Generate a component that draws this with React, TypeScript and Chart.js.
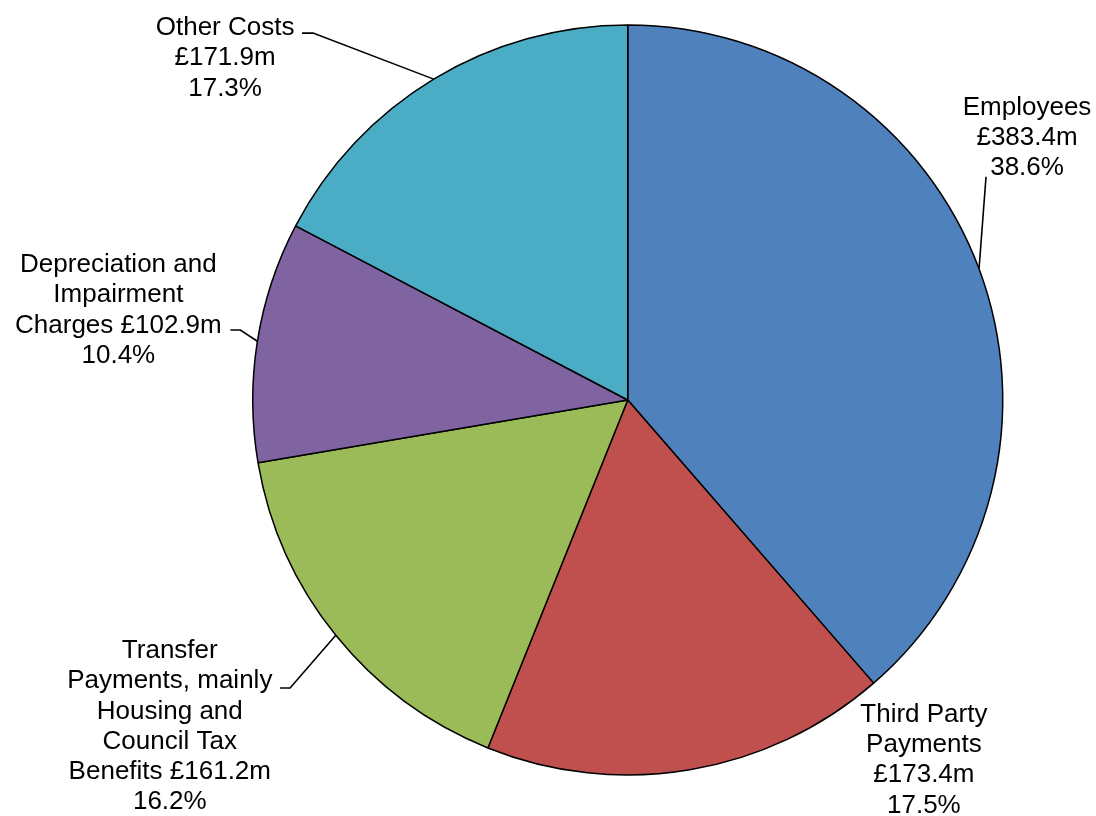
import React, { useEffect, useRef } from "react";
import { Chart, registerables } from "chart.js";

Chart.register(...registerables);

const categories: string[] = [
  "Employees",
  "Third Party Payments",
  "Transfer Payments, mainly Housing and Council Tax Benefits",
  "Depreciation and Impairment Charges",
  "Other Costs",
];

// £ millions
const values: number[] = [383.4, 173.4, 161.2, 102.9, 171.9];

// how each category name is broken into lines in its label
const nameLines: string[][] = [
  ["Employees"],
  ["Third Party", "Payments"],
  ["Transfer", "Payments, mainly", "Housing and", "Council Tax", "Benefits"],
  ["Depreciation and", "Impairment", "Charges"],
  ["Other Costs"],
];
// whether the value is appended to the last name line
const valueInline: boolean[] = [false, false, true, true, false];

const colors: string[] = ["#4F81BD", "#C0504D", "#9BBB59", "#8064A2", "#4BACC6"];

// label placement relative to the slice's outer-edge midpoint (styling/layout)
type LabelLayout = { dx: number; dy: number; leader: [number, number][] };
const labelLayout: LabelLayout[] = [
  { dx: 48, dy: -154, leader: [[7, -92]] },
  { dx: 234, dy: -48, leader: [] },
  { dx: -166, dy: 22.6, leader: [[-45.7, 52.6], [-55.7, 52.6]] },
  { dx: -139, dy: -69.3, leader: [[-17, -11.3], [-27, -11.3]] },
  { dx: -208.6, dy: -44, leader: [[-120.6, -46], [-131.6, -46]] },
];

const FONT = '26px "Liberation Sans", Arial, sans-serif';
const LINE_H = 30.3;

function buildLines(i: number, total: number): string[] {
  const v = "£" + values[i].toFixed(1) + "m";
  const pct = ((values[i] / total) * 100).toFixed(1) + "%";
  const lines = nameLines[i].slice();
  if (valueInline[i]) {
    lines[lines.length - 1] = lines[lines.length - 1] + " " + v;
  } else {
    lines.push(v);
  }
  lines.push(pct);
  return lines;
}

const labelPlugin = {
  id: "pieLabels",
  afterDatasetsDraw(chart: any) {
    const ctx = chart.ctx as CanvasRenderingContext2D;
    const meta = chart.getDatasetMeta(0);
    const total = values.reduce((a, b) => a + b, 0);
    ctx.save();
    ctx.font = FONT;
    ctx.fillStyle = "#000";
    ctx.textAlign = "center";
    ctx.textBaseline = "alphabetic";
    meta.data.forEach((arc: any, i: number) => {
      const { x, y, startAngle, endAngle, outerRadius } = arc.getProps(
        ["x", "y", "startAngle", "endAngle", "outerRadius"],
        true
      );
      const mid = (startAngle + endAngle) / 2;
      const ex = x + Math.cos(mid) * outerRadius;
      const ey = y + Math.sin(mid) * outerRadius;
      const lay = labelLayout[i];
      if (lay.leader.length) {
        ctx.beginPath();
        ctx.strokeStyle = "#000";
        ctx.lineWidth = 1.6;
        ctx.moveTo(ex, ey);
        lay.leader.forEach(([lx, ly]) => ctx.lineTo(ex + lx, ey + ly));
        ctx.stroke();
      }
      const lines = buildLines(i, total);
      lines.forEach((t, k) => {
        ctx.fillText(t, ex + lay.dx, ey + lay.dy + k * LINE_H);
      });
    });
    ctx.restore();
  },
};

export default function App() {
  const ref = useRef<HTMLCanvasElement | null>(null);
  useEffect(() => {
    document.body.style.margin = "0";
    if (!ref.current) return;
    const chart = new Chart(ref.current, {
      type: "pie",
      data: {
        labels: categories,
        datasets: [
          {
            data: values,
            backgroundColor: colors,
            borderColor: "#000",
            borderWidth: 1.5,
          },
        ],
      },
      options: {
        responsive: false,
        animation: false,
        devicePixelRatio: 1,
        layout: { padding: { left: 252, right: 92.5, top: 24.25, bottom: 40.25 } },
        plugins: {
          legend: { display: false },
          tooltip: { enabled: false },
        },
      },
      plugins: [labelPlugin],
    } as any);
    return () => chart.destroy();
  }, []);
  return (
    <div style={{ position: "absolute", left: 0, top: 0, width: 1096, height: 816, background: "#fff" }}>
      <canvas ref={ref} width={1096} height={816} style={{ width: 1096, height: 816 }} />
    </div>
  );
}
